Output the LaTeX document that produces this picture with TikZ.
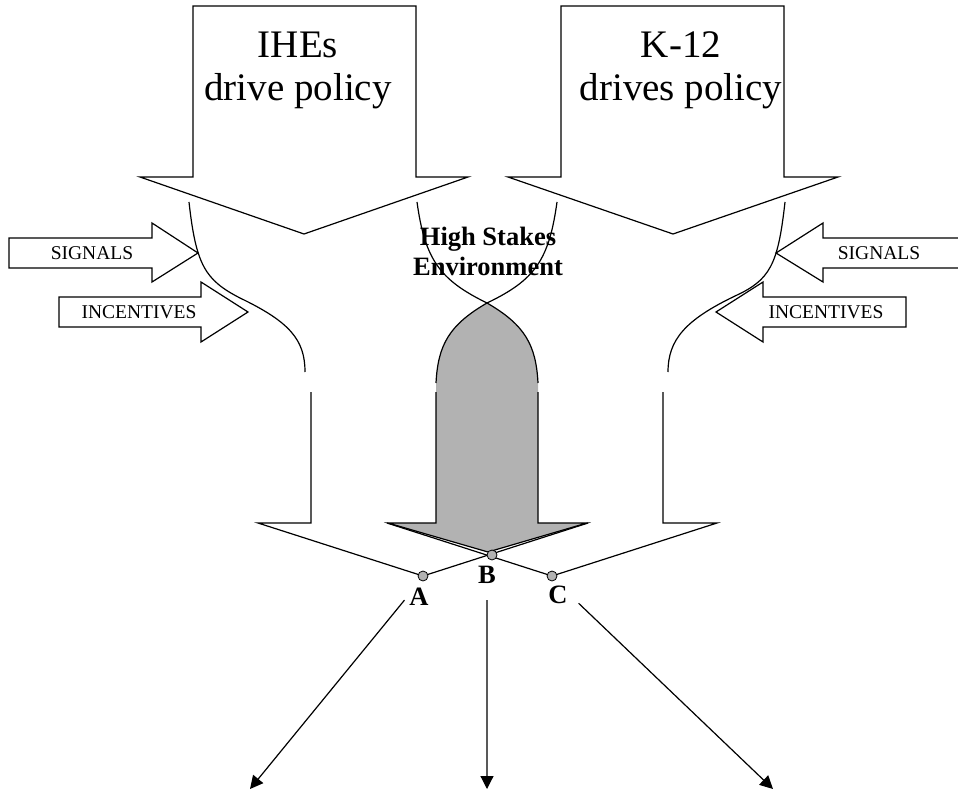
\documentclass[tikz,border=0pt]{standalone}
\usepackage{fontspec}
\setmainfont{Liberation Serif}
\usetikzlibrary{positioning, arrows.meta}
\definecolor{flowgray}{RGB}{178,178,178}
\tikzset{
    outline/.style={draw, line width=0.6pt},
    flow/.style={draw, line width=0.6pt},
    policytext/.style={align=center, font=\fontsize{19.5}{21.5}\selectfont, inner sep=0pt},
    cuetext/.style={font=\fontsize{9.75}{11}\selectfont, inner sep=0pt},
    stakestext/.style={align=center, font=\fontsize{13.25}{15}\bfseries, inner sep=0pt},
    pointdot/.style={draw, circle, fill=flowgray, minimum size=5pt, inner sep=0pt, line width=0.4pt},
    pointlabel/.style={font=\fontsize{13.25}{15}\bfseries, inner sep=1pt},
    outcome/.style={-{Triangle[length=6.5pt, width=6.5pt, color=black]}, line width=0.6pt}
}

\begin{document}
\begin{tikzpicture}[x=0.5pt, y=-0.5pt]
	\useasboundingbox (0,0) rectangle (958,791);
	\draw[outline] (193,6) -- (416,6) -- (416,177) -- (468,177) -- (304,234) -- (140,177) -- (193,177) -- cycle;
	\draw[outline] (561,6) -- (784,6) -- (784,177) -- (838,177) -- (673,234) -- (508,177) -- (561,177) -- cycle;
	\node(IHEs)[policytext] at (298,70) {IHEs\\drive policy};
	\node(KTwelve)[policytext] at (681,70) {K-12\\drives policy};
	\draw[outline] (9,238) -- (152,238) -- (152,223) -- (198,253) -- (152,282) -- (152,268) -- (9,268) -- cycle;
	\draw[outline] (59,297) -- (201,297) -- (201,282) -- (248,312) -- (201,342) -- (201,327) -- (59,327) -- cycle;
	\draw[outline] (958,238) -- (823,238) -- (823,223) -- (776,253) -- (823,282) -- (823,268) -- (958,268);
	\draw[outline] (906,297) -- (763,297) -- (763,282) -- (716,312) -- (763,342) -- (763,327) -- (906,327) -- cycle;
	\node(SignalsLeft)[cuetext] at (92,253) {SIGNALS};
	\node(IncentivesLeft)[cuetext] at (139,312) {INCENTIVES};
	\node(SignalsRight)[cuetext] at (879,253) {SIGNALS};
	\node(IncentivesRight)[cuetext] at (826,312) {INCENTIVES};
	\fill[flowgray] (487,303) .. controls (525,325) and (536,345) .. (538,383) -- (538,523) -- (587,523) -- (488,552) -- (388,523) -- (436,523) -- (436,383) .. controls (438,345) and (449,325) .. (487,303);
	\draw[flow] (189,202) .. controls (196,265) and (205,280) .. (240,298) .. controls (290,322) and (305,340) .. (305,372);
	\draw[flow] (417,202) .. controls (425,260) and (440,280) .. (487,303) .. controls (525,325) and (536,345) .. (538,383);
	\draw[flow] (557,202) .. controls (549,260) and (535,280) .. (487,303) .. controls (449,325) and (438,345) .. (436,383);
	\draw[flow] (785,202) .. controls (778,265) and (770,280) .. (735,296) .. controls (685,320) and (668,340) .. (668,372);
	\draw[outline] (311,392) -- (311,523) -- (258,523) -- (423,576) -- (588,523);
	\draw[outline] (663,392) -- (663,523) -- (717,523) -- (552,576) -- (387,523);
	\draw[outline] (436,392) -- (436,523) -- (388,523) -- (488,552) -- (587,523) -- (538,523) -- (538,392);
	\node(A)[pointdot] at (423,576) {};
	\node(B)[pointdot] at (492,555) {};
	\node(C)[pointdot] at (552,576) {};
	\node(ALabel)[pointlabel] at (419,597) {A};
	\node(BLabel)[pointlabel] at (487,575) {B};
	\node(CLabel)[pointlabel] at (558,595) {C};
	\coordinate(AEnd) at (250,789);
	\coordinate(BEnd) at (487,789);
	\coordinate(CEnd) at (773,789);
	\draw[outcome, shorten <=2pt] (ALabel.west) -- (AEnd);
	\draw[outcome, black!65, shorten <=7pt] (BLabel.south) -- (BEnd);
	\draw[outcome, shorten <=6pt] (CLabel.east) -- (CEnd);
	\node(Stakes)[stakestext] at (488,251) {High Stakes\\Environment};
\end{tikzpicture}
\end{document}
